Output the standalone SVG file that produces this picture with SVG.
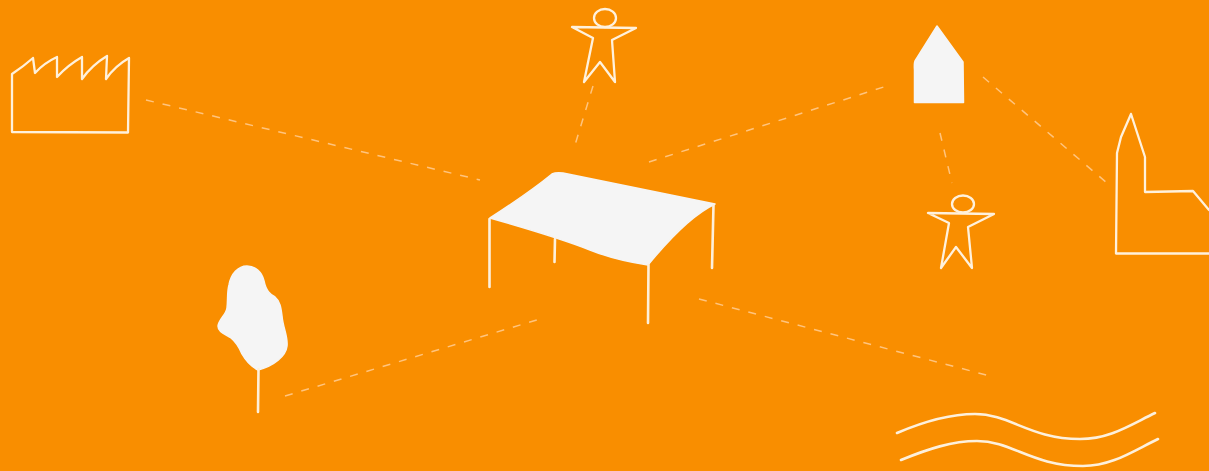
<svg xmlns="http://www.w3.org/2000/svg" width="1209" height="471" viewBox="0 0 1209 471">
<style>
.o{fill:none;stroke:#fff1dc;stroke-width:2.3;stroke-linecap:round;stroke-linejoin:round}
.f{fill:#f5f5f5;stroke:#f5f5f5;stroke-width:1.5;stroke-linejoin:round}
.l{fill:none;stroke:#fdf0dc;stroke-width:2.6;stroke-linecap:round}
.d{fill:none;stroke:#ffc47e;stroke-width:1.5;stroke-dasharray:8 9}
</style>
<rect width="1209" height="471" fill="#f98e00"/>
<g id="connectors">
<path class="d" d="M146 100L480 180"/>
<path class="d" d="M593 86L575 145"/>
<path class="d" d="M649 162L890 85"/>
<path class="d" d="M983 77L1107 183"/>
<path class="d" d="M940 133L952 183"/>
<path class="d" d="M285 396L540 319"/>
<path class="d" d="M699 299L990 376"/>
</g>
<g id="factory"><path class="o" d="M12 74L12 132L128 132.500L129 58Q115 66 106 79L107 56Q92 65 82 79L82 57Q68 65 57 77L57 57Q44 63 35 73L33 58Q24 66 12 74Z"/></g>
<g id="person-1">
<ellipse class="o" cx="605" cy="18" rx="11" ry="9"/>
<path class="o" d="M572 27L636 28L612 40L615 82L600 62L584 82L593 38Z"/>
</g>
<g id="table">
<path class="f" d="M490 218C510 205 530 192 552 174Q556 172 563 173L715 204C692 215 670 238 648 265C628 262 610 258 590 250C560 238 525 228 490 218Z"/>
<path class="l" d="M489.500 219L489.500 287M555 239L554.500 262M648.500 265L648 323M713.500 205L712 268"/>
</g>
<g id="house"><path class="f" d="M937 26L915 61Q914 63 914.500 70L914.500 102.500L963.500 102.500L963 62Z"/></g>
<g id="person-2">
<ellipse class="o" cx="963" cy="204" rx="11" ry="8.500"/>
<path class="o" d="M928 213L994 214L968 227L972 268L956 247L941 268L949 223Z"/>
</g>
<g id="church"><path class="o" d="M1131 114L1121 137L1117 153L1116 253.500L1209 253.500M1131 114L1145 157L1145 192L1193 191L1209 210"/></g>
<g id="tree">
<path class="f" d="M247 266C255 266 262 272 264 281C266 291 270 294 275 297C280 301 281 308 282 316C283 328 288 336 287 346C286 356 274 366 258 370C250 366 246 361 242 354C239 347 236 342 231 338C225 334 218 332 218 326C219 319 226 315 227 308C228 300 227 292 229 285C231 274 238 266 247 266Z"/>
<path class="l" d="M258.500 369L258 412"/>
</g>
<g id="waves">
<path class="l" d="M897 433C925 421 950 414 975 414C1010 414 1030 439 1080 439C1110 439 1130 425 1155 413"/>
<path class="l" d="M901 460C928 449 952 441 977 441C1012 441 1032 466 1083 466C1112 466 1133 451 1158 439"/>
</g>
</svg>
